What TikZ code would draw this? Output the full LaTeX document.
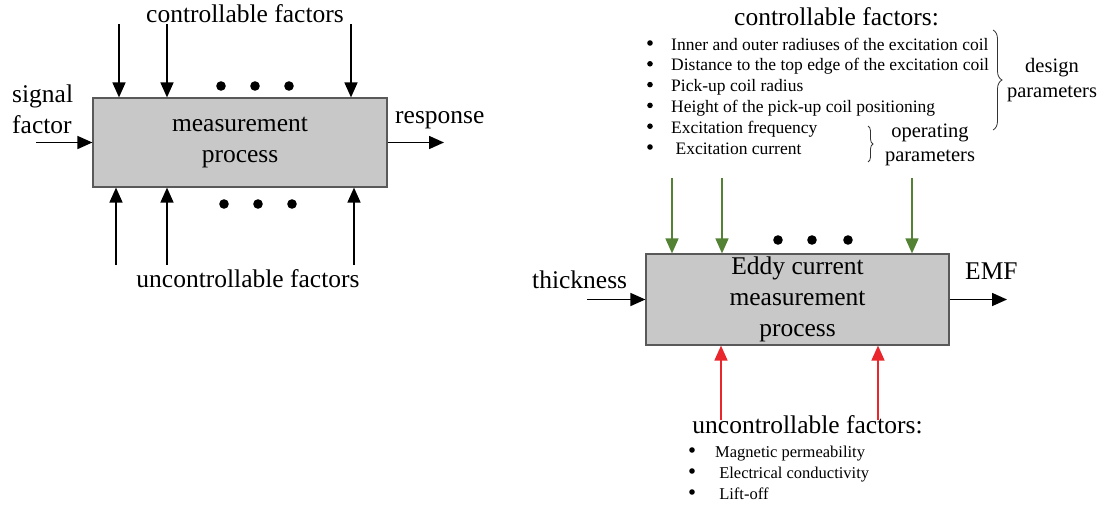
\documentclass[tikz,border=0pt]{standalone}
\usepackage{fontspec}
\setmainfont{Liberation Serif}
\usetikzlibrary{arrows.meta,positioning,decorations.pathreplacing}
\definecolor{BoxGray}{HTML}{C8C8C8}
\definecolor{BoxEdge}{HTML}{595959}
\definecolor{CtrlGreen}{HTML}{548235}
\definecolor{NoiseRed}{HTML}{E8262B}

\begin{document}
\begin{tikzpicture}[
  x=1pt, y=-1pt,
  big/.style={font=\fontsize{25.5}{31}\selectfont, inner sep=0pt},
  item/.style={font=\fontsize{17.5}{21}\selectfont, inner sep=0pt, anchor=base west},
  par/.style={font=\fontsize{20.5}{24.5}\selectfont, inner sep=0pt, align=center},
  procbox/.style={draw=BoxEdge, line width=1.2pt, fill=BoxGray, align=center, big},
  arr/.style={-{Triangle[length=15pt,width=13pt]}, line width=1.6pt},
  brace/.style={decorate, decoration={brace, amplitude=#1}, line width=0.8pt, draw=black!80}
]
  \useasboundingbox (0,0) rectangle (1104,506);

  % left: general measurement process
  \node[procbox, minimum width=294pt, minimum height=89pt] (mp) at (240,142.5) {measurement\\process};
  \node[big, anchor=base] (ctlL) at (245,23) {controllable factors};
  \node[big, anchor=base] (uncL) at (248,287) {uncontrollable factors};
  \node[big, align=left, anchor=west] (sigL) at (12,109.5) {signal\\factor};
  \node[big, anchor=base west] (respL) at (395,123) {response};

  \foreach \x [count=\i] in {119,167,351} {
    \coordinate (lt\i) at (\x,24);
    \draw[arr] (lt\i) -- (lt\i |- mp.north);
  }
  \foreach \x [count=\i] in {116,167,354} {
    \coordinate (lb\i) at (\x,265);
    \draw[arr] (lb\i) -- (lb\i |- mp.south);
  }
  \foreach \x in {221,255,289} \fill (\x,86) circle (4.8pt);
  \foreach \x in {224,258,292} \fill (\x,204) circle (4.8pt);

  \coordinate (sig) at (36,142.5);
  \coordinate (resp) at (444,142.5);
  \draw[arr] (sig) -- (mp.west);
  \draw[arr] (mp.east) -- (resp);

  % right: eddy current measurement
  \node[procbox, minimum width=303pt, minimum height=91pt] (ec) at (797.5,299.5) {Eddy current\\measurement\\process};
  \node[big, anchor=base] (ctlR) at (836.5,25) {controllable factors:};
  \foreach \txt [count=\i] in {Inner and outer radiuses of the excitation coil,
      Distance to the top edge of the excitation coil, Pick-up coil radius,
      Height of the pick-up coil positioning, Excitation frequency, \ Excitation current} {
    \node[item] (cf\i) at (671,29.2+20.8*\i) {\txt};
    \fill (650,22.2+20.8*\i) circle (2.8pt);
  }
  \draw[brace=9pt] (993,30) -- (993,130);
  \node[par] (design) at (1052,80) {design\\parameters};
  \draw[brace=5pt] (868,126) -- (868,162);
  \node[par] (oper) at (930,145) {operating\\parameters};

  \foreach \x [count=\i] in {672,722,912} {
    \coordinate (gt\i) at (\x,178);
    \draw[arr, CtrlGreen] (gt\i) -- (gt\i |- ec.north);
  }
  \foreach \x in {778,812,848} \fill (\x,240) circle (4.8pt);
  \foreach \x [count=\i] in {721,878} {
    \coordinate (rb\i) at (\x,420);
    \draw[arr, NoiseRed] (rb\i) -- (rb\i |- ec.south);
  }

  \node[big, anchor=base west] (thick) at (532,288) {thickness};
  \node[big, anchor=base west] (emf) at (965,279) {EMF};
  \coordinate (thin) at (587,299.5);
  \coordinate (emfout) at (1007,299.5);
  \draw[arr] (thin) -- (ec.west);
  \draw[arr] (ec.east) -- (emfout);

  \node[big, anchor=base] (uncR) at (807.5,433) {uncontrollable factors:};
  \foreach \txt [count=\i] in {Magnetic permeability, \ Electrical conductivity, \ Lift-off} {
    \node[item, font=\fontsize{16.5}{20}\selectfont] (uf\i) at (715,436+21*\i) {\txt};
    \fill (692,429+21*\i) circle (2.8pt);
  }
\end{tikzpicture}
\end{document}
